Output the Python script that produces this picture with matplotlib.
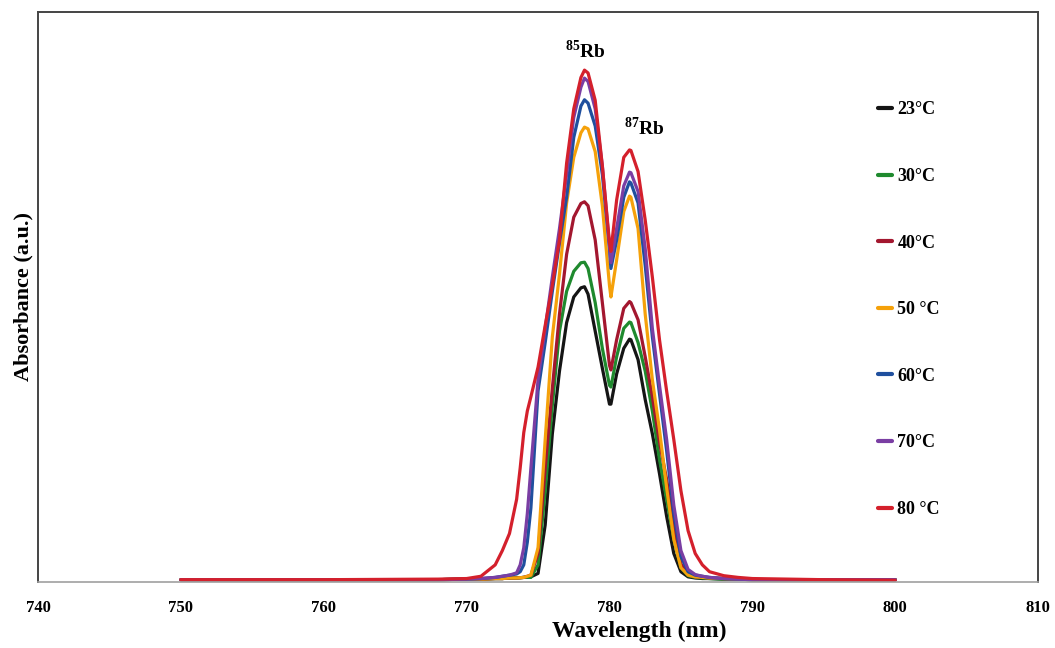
import matplotlib
matplotlib.use("Agg")
import matplotlib.pyplot as plt

plt.rcParams['font.family'] = ['Liberation Serif', 'DejaVu Serif']
plt.rcParams['mathtext.fontset'] = 'custom'
plt.rcParams['mathtext.rm'] = 'Liberation Serif:bold'
plt.rcParams['mathtext.bf'] = 'Liberation Serif:bold'

wavelength = [750, 760, 768, 770, 771, 772, 772.5, 773, 773.5, 773.75, 774, 774.25, 774.5, 775, 775.5,
              776, 776.5, 777, 777.5, 778, 778.25, 778.5, 779, 779.5, 780, 780.1, 780.5, 781, 781.4,
              781.5, 782, 782.5, 783, 783.5, 784, 784.5, 785, 785.5, 786, 786.5, 787, 788, 789, 790,
              795, 800]

t23 = [.004, .004, .004, .005, .005, .006, .006, .007, .007, .0075, .008, .0085, .009, .015, .10,
       .26, .37, .455, .50, .516, .518, .505, .44, .375, .312, .312, .365, .41, .426,
       .425, .39, .32, .26, .19, .115, .05, .018, .009, .007, .006, .006, .005, .005, .004,
       .004, .004]
t30 = [.004, .004, .004, .005, .005, .006, .006, .007, .007, .0075, .008, .008, .008, .03, .16,
       .31, .44, .51, .545, .56, .561, .55, .49, .41, .345, .342, .395, .445, .456,
       .455, .42, .37, .30, .215, .145, .075, .025, .011, .008, .007, .006, .005, .005, .004,
       .004, .004]
t40 = [.004, .004, .004, .005, .005, .006, .006, .007, .007, .0075, .008, .01, .012, .05, .20,
       .34, .47, .575, .64, .664, .667, .66, .60, .49, .38, .372, .425, .48, .492,
       .49, .46, .395, .325, .245, .18, .10, .032, .013, .009, .008, .007, .006, .005, .004,
       .004, .004]
t50 = [.004, .004, .004, .005, .005, .006, .006, .007, .007, .0075, .008, .01, .012, .06, .25,
       .43, .54, .665, .745, .788, .798, .795, .755, .66, .52, .50, .565, .65, .677,
       .675, .62, .47, .355, .267, .165, .075, .025, .012, .009, .008, .007, .006, .005, .004,
       .004, .004]
t60 = [.004, .004, .004, .005, .006, .008, .010, .012, .014, .018, .03, .07, .13, .335, .42,
       .51, .595, .675, .78, .835, .846, .84, .80, .715, .585, .55, .60, .675, .702,
       .70, .665, .555, .43, .33, .23, .12, .045, .018, .012, .010, .008, .006, .005, .004,
       .004, .004]
t70 = [.004, .004, .004, .005, .006, .008, .010, .012, .016, .03, .06, .12, .20, .355, .445,
       .535, .62, .715, .815, .868, .884, .878, .83, .73, .59, .56, .62, .695, .719,
       .718, .685, .585, .445, .345, .25, .135, .055, .022, .013, .010, .008, .006, .005, .004,
       .004, .004]
t80 = [.004, .004, .005, .006, .01, .03, .055, .085, .145, .20, .262, .30, .325, .377, .45,
       .52, .60, .735, .83, .885, .898, .893, .845, .73, .595, .58, .67, .745, .758,
       .757, .72, .635, .535, .425, .335, .25, .16, .09, .05, .03, .018, .011, .008, .006,
       .004, .003]

series = [t23, t30, t40, t50, t60, t70, t80]
labels = ['23°C', '30°C', '40°C', '50 °C', '60°C', '70°C', '80 °C']
colors = ['#151515', '#1f8a2e', '#a3172f', '#f5a10a', '#1f4f9e', '#7a3ea3', '#d4202c']

xticks = [740, 750, 760, 770, 780, 790, 800, 810]

fig = plt.figure(figsize=(10.55, 6.48), dpi=100)
ax = fig.add_axes([0.036, 0.1019, 0.948, 0.8796])

for vals, lab, col in zip(series, labels, colors):
    ax.plot(wavelength, vals, color=col, lw=2.3, label=lab,
            solid_capstyle='round', solid_joinstyle='round')

ax.set_xlim(740, 810)
ax.set_ylim(0, 1)
ax.set_xticks(xticks)
ax.set_xticklabels([str(t) for t in xticks], fontsize=12, fontweight='bold')
ax.set_yticks([])
ax.tick_params(axis='x', length=0, pad=13)

for s in ['left', 'top', 'right']:
    ax.spines[s].set_color('#444444')
    ax.spines[s].set_linewidth(1.4)
ax.spines['bottom'].set_color('#a0a0a0')
ax.spines['bottom'].set_linewidth(1.2)

ax.set_xlabel('Wavelength (nm)', fontsize=17, fontweight='bold', labelpad=0)
ax.xaxis.set_label_coords(0.601, -0.068)
ax.set_ylabel('Absorbance (a.u.)', fontsize=16, fontweight='bold')
ax.yaxis.set_label_coords(-0.004, 0.50)

ax.text(778.3, 0.932, r'$^{85}$Rb', fontsize=14, fontweight='bold', ha='center', va='center')
ax.text(782.4, 0.797, r'$^{87}$Rb', fontsize=14, fontweight='bold', ha='center', va='center')

leg = ax.legend(loc='upper left', bbox_to_anchor=(0.824, 0.872), frameon=False,
                handlelength=0.75, handletextpad=0.3, labelspacing=2.75,
                prop={'family': 'Liberation Serif', 'weight': 'bold', 'size': 13})
for h in leg.legend_handles:
    h.set_linewidth(3)

fig.savefig('out.png', dpi=100)
